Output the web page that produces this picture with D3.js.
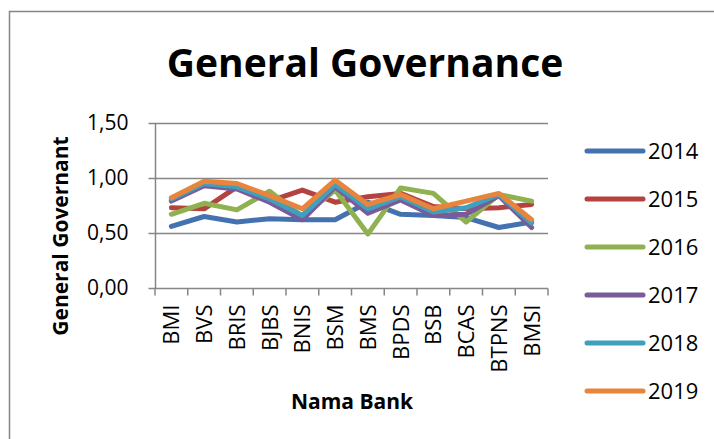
<!DOCTYPE html>
<html>
<head>
<meta charset="utf-8">
<script src="https://cdn.jsdelivr.net/npm/d3@7"></script>
<style>
  body { margin: 0; background: #fff; }
  svg { display: block; font-family: "Open Sans", sans-serif; }
</style>
</head>
<body>
<div id="chart"></div>
<script>
// data
const banks = ["BMI", "BVS", "BRIS", "BJBS", "BNIS", "BSM", "BMS", "BPDS", "BSB", "BCAS", "BTPNS", "BMSI"];
const years = ["2014", "2015", "2016", "2017", "2018", "2019"];
const v2014 = [0.56, 0.65, 0.60, 0.63, 0.62, 0.62, 0.78, 0.67, 0.66, 0.64, 0.55, 0.60];
const v2015 = [0.73, 0.72, 0.92, 0.79, 0.89, 0.78, 0.83, 0.86, 0.74, 0.72, 0.73, 0.76];
const v2016 = [0.67, 0.77, 0.71, 0.88, 0.65, 0.89, 0.49, 0.91, 0.86, 0.60, 0.85, 0.79];
const v2017 = [0.79, 0.93, 0.90, 0.78, 0.62, 0.92, 0.68, 0.80, 0.66, 0.67, 0.84, 0.55];
const v2018 = [0.81, 0.95, 0.92, 0.81, 0.66, 0.94, 0.72, 0.83, 0.69, 0.73, 0.85, 0.59];
const v2019 = [0.82, 0.97, 0.95, 0.84, 0.72, 0.98, 0.76, 0.85, 0.72, 0.79, 0.86, 0.62];
const yTicks = [0, 0.5, 1.0, 1.5];

const series = [v2014, v2015, v2016, v2017, v2018, v2019];
const colors = ["#4472b0", "#b4423f", "#8fb150", "#7a5a98", "#3fa0be", "#e8843c"];

const width = 714, height = 439;
const margin = { top: 123, right: 166, bottom: 151, left: 155 };

const svg = d3.select("#chart").append("svg")
  .attr("width", width)
  .attr("height", height);

// chart border
svg.append("rect")
  .attr("x", 9.5).attr("y", 11.5)
  .attr("width", width).attr("height", height)
  .attr("fill", "none")
  .attr("stroke", "#868686")
  .attr("stroke-width", 1.5);

// scales
const xScale = d3.scaleBand().domain(banks).range([margin.left, width - margin.right]);
const yScale = d3.scaleLinear().domain([0, 1.5]).range([height - margin.bottom, margin.top]);
const fmt = d => d3.format(".2f")(d).replace(".", ",");

// gridlines
svg.append("g")
  .selectAll("line")
  .data(yTicks)
  .join("line")
  .attr("x1", margin.left)
  .attr("x2", width - margin.right)
  .attr("y1", d => Math.round(yScale(d)) + 0.5)
  .attr("y2", d => Math.round(yScale(d)) + 0.5)
  .attr("stroke", "#868686")
  .attr("stroke-width", 1.5);

// y axis
const yAxis = d3.axisLeft(yScale).tickValues(yTicks).tickSize(7).tickPadding(20).tickFormat(fmt);
const gy = svg.append("g")
  .attr("transform", `translate(${margin.left + 0.5},0)`)
  .call(yAxis);
gy.select(".domain").attr("stroke", "#868686").attr("stroke-width", 1.5).attr("d", `M0,${margin.top}V${height - margin.bottom}`);
gy.selectAll(".tick line").attr("stroke", "#868686").attr("stroke-width", 1.5);
gy.selectAll(".tick text").attr("font-size", 21).attr("fill", "#000").attr("font-family", "Open Sans");

// x axis (ticks at category boundaries)
const gx = svg.append("g")
  .attr("transform", `translate(0,${Math.round(yScale(0)) + 0.5})`);
gx.selectAll("line.tk")
  .data(banks.concat(["end"]))
  .join("line")
  .attr("x1", (d, i) => margin.left + i * xScale.bandwidth())
  .attr("x2", (d, i) => margin.left + i * xScale.bandwidth())
  .attr("y1", 0).attr("y2", 7)
  .attr("stroke", "#868686")
  .attr("stroke-width", 1.5);
gx.selectAll("text")
  .data(banks)
  .join("text")
  .attr("transform", d => `translate(${xScale(d) + xScale.bandwidth() / 2 + 8},16) rotate(-90)`)
  .attr("text-anchor", "end")
  .attr("font-size", 22)
  .text(d => d);

// lines
const line = d3.line()
  .x((d, i) => xScale(banks[i]) + xScale.bandwidth() / 2)
  .y(d => yScale(d));

svg.append("g")
  .selectAll("path")
  .data(series)
  .join("path")
  .attr("fill", "none")
  .attr("stroke", (d, i) => colors[i])
  .attr("stroke-width", 5)
  .attr("stroke-linejoin", "round")
  .attr("stroke-linecap", "round")
  .attr("d", line);

// titles
svg.append("text")
  .attr("x", 365).attr("y", 77)
  .attr("text-anchor", "middle")
  .attr("font-size", 39)
  .attr("font-weight", "bold")
  .text("General Governance");

svg.append("text")
  .attr("transform", "translate(68,236) rotate(-90)")
  .attr("text-anchor", "middle")
  .attr("font-size", 21)
  .attr("font-weight", "bold")
  .text("General Governant");

svg.append("text")
  .attr("x", 352).attr("y", 409)
  .attr("text-anchor", "middle")
  .attr("font-size", 21)
  .attr("font-weight", "bold")
  .text("Nama Bank");

// legend
const legend = svg.append("g")
  .selectAll("g")
  .data(years)
  .join("g")
  .attr("transform", (d, i) => `translate(587,${151 + i * 48})`);
legend.append("line")
  .attr("x1", 0).attr("x2", 56)
  .attr("stroke", (d, i) => colors[i])
  .attr("stroke-width", 5)
  .attr("stroke-linecap", "round");
legend.append("text")
  .attr("x", 61).attr("y", 8)
  .attr("font-size", 22)
  .text(d => d);
</script>
</body>
</html>
